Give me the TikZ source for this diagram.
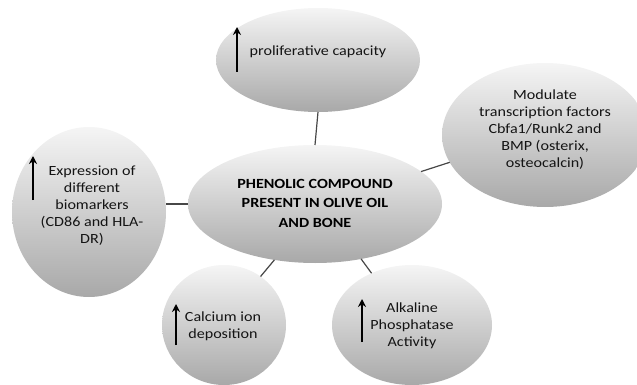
\documentclass[tikz,border=0pt]{standalone}
\usepackage{fontspec}
\setmainfont{Carlito}[FakeStretch=1.15]
\usetikzlibrary{shapes.geometric,arrows.meta}
\begin{document}
\begin{tikzpicture}[x=1pt,y=-1pt,
  bubble/.style={ellipse, draw=none, inner sep=0pt, outer sep=0pt,
    top color=black!4, middle color=black!11, bottom color=black!34},
  txt/.style={align=center, font=\fontsize{14}{17}\selectfont, text=black!92, inner sep=0pt},
  hub/.style={align=center, font=\fontsize{14}{19.5}\selectfont\bfseries, text=black, inner sep=0pt},
  link/.style={draw=black!72, line width=1.2pt},
  uparrow/.style={-{Stealth[length=8pt,width=8pt]}, line width=2.8pt, black}]
\clip (0,0) rectangle (637,385);
% bubbles
\node[bubble, minimum width=204pt, minimum height=104pt] (top) at (318,60) {};
\node[bubble, minimum width=254pt, minimum height=118pt] (hubb) at (315,204) {};
\node[bubble, minimum width=154pt, minimum height=170pt] (left) at (89,212) {};
\node[bubble, minimum width=206pt, minimum height=144pt] (right) at (545,135) {};
\node[bubble, minimum width=124pt, minimum height=120pt] (calc) at (224,325) {};
\node[bubble, minimum width=160pt, minimum height=120pt] (alk) at (412,325) {};
% connectors
\draw[link] (top.south) -- (hubb.north);
\draw[link] (hubb.west) -- (hubb.west -| left.east);
\draw[link] (hubb.17) -- (right.196);
\draw[link] (hubb.234) -- (calc.53);
\draw[link] (hubb.310) -- (alk.128);
% texts
\node[txt] (ttop) at (318,52) {proliferative capacity};
\node[hub] (thub) at (315,203) {PHENOLIC COMPOUND\\PRESENT IN OLIVE OIL\\AND BONE};
\node[txt] (tleft) at (92,206) {Expression of\\different\\biomarkers\\(CD86 and HLA-\\DR)};
\node[txt] (tright) at (545,130) {Modulate\\transcription factors\\Cbfa1/Runk2 and\\BMP (osterix,\\osteocalcin)};
\node[txt] (tcalc) at (223,326) {Calcium ion\\deposition};
\node[txt] (talk) at (412,326) {Alkaline\\Phosphatase\\Activity};
% up arrows
\coordinate (a1s) at (237,72); \coordinate (a1e) at (237,27);
\coordinate (a2s) at (33,200); \coordinate (a2e) at (33,156);
\coordinate (a3s) at (176,345); \coordinate (a3e) at (176,304);
\coordinate (a4s) at (362,342); \coordinate (a4e) at (362,299);
\draw[uparrow] (a1s) -- (a1e);
\draw[uparrow] (a2s) -- (a2e);
\draw[uparrow] (a3s) -- (a3e);
\draw[uparrow] (a4s) -- (a4e);
\end{tikzpicture}
\end{document}
